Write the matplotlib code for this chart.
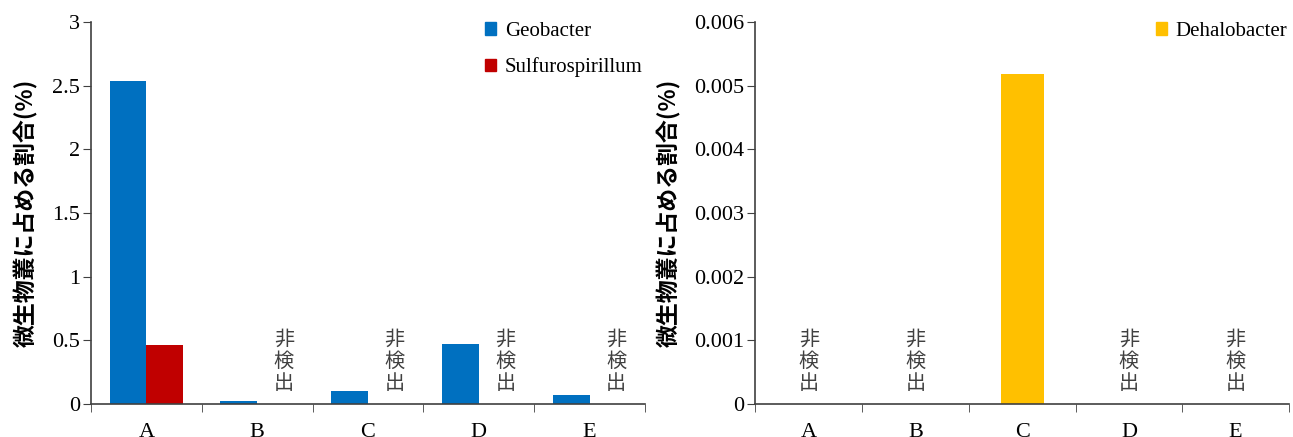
import numpy as np
import matplotlib
matplotlib.use('Agg')
import matplotlib.pyplot as plt
from matplotlib.patches import Patch

plt.rcParams['font.family'] = ['Liberation Serif', 'Noto Sans CJK JP']

# data
samples = ['A', 'B', 'C', 'D', 'E']
geobacter = [2.54, 0.025, 0.105, 0.47, 0.068]
sulfuro = [0.46, 0, 0, 0, 0]
sulfuro_nd = [False, True, True, True, True]
dehalo = [0, 0, 0.00518, 0, 0]
dehalo_nd = [True, True, False, True, True]

ylabel = '微生物叢に占める割合(%)'
nd_text = '非\n検\n出'

fig = plt.figure(figsize=(12.93, 4.37), dpi=100)
ax1 = fig.add_axes([0.0704, 0.0755, 0.4284, 0.8741])
ax2 = fig.add_axes([0.5843, 0.0755, 0.4126, 0.8741])

x = np.arange(len(samples))
w = 0.333
ax1.bar(x - w/2, geobacter, w, color='#0070C0', label='Geobacter')
ax1.bar(x + w/2, sulfuro, w, color='#C00000', label='Sulfurospirillum')
for i, nd in enumerate(sulfuro_nd):
    if nd:
        ax1.text(i + 0.24, 0.08, nd_text, ha='center', va='bottom', fontsize=14.5,
                 color='#404040', family='Noto Sans CJK JP', linespacing=1.07)
ax1.set_ylim(0, 3)
ax1.set_yticks([0, 0.5, 1, 1.5, 2, 2.5, 3])
ax1.set_yticklabels(['0', '0.5', '1', '1.5', '2', '2.5', '3'])

ax2.bar(x, dehalo, 0.4, color='#FFC000', label='Dehalobacter')
for i, nd in enumerate(dehalo_nd):
    if nd:
        ax2.text(i, 0.00016, nd_text, ha='center', va='bottom', fontsize=14.5,
                 color='#404040', family='Noto Sans CJK JP', linespacing=1.07)
ax2.set_ylim(0, 0.006)
ax2.set_yticks([0, 0.001, 0.002, 0.003, 0.004, 0.005, 0.006])
ax2.set_yticklabels(['0', '0.001', '0.002', '0.003', '0.004', '0.005', '0.006'])

for ax in (ax1, ax2):
    ax.set_xlim(-0.5, 4.5)
    ax.set_xticks(x)
    ax.set_xticklabels(samples)
    ax.set_xticks(np.arange(-0.5, 5.0, 1.0), minor=True)
    ax.tick_params(axis='x', which='major', length=0, pad=14, labelsize=16)
    ax.tick_params(axis='x', which='minor', length=6, direction='out', color='#404040')
    ax.tick_params(axis='y', length=6, direction='out', labelsize=16, pad=2, color='#404040')
    for s in ('top', 'right'):
        ax.spines[s].set_visible(False)
    for s in ('left', 'bottom'):
        ax.spines[s].set_color('#404040')
        ax.spines[s].set_linewidth(1.2)
    ax.set_ylabel(ylabel, family='Noto Sans CJK JP', fontweight='bold', fontsize=16.5)

ax1.yaxis.set_label_coords(-0.095, 0.5)
ax2.yaxis.set_label_coords(-0.14, 0.5)

h1 = [Patch(color='#0070C0'), Patch(color='#C00000')]
ax1.legend(h1, ['Geobacter', 'Sulfurospirillum'], loc='upper left',
           bbox_to_anchor=(0.375, 0.95), bbox_transform=fig.transFigure,
           frameon=False, fontsize=15, handlelength=0.55, handleheight=0.55,
           handletextpad=0.4, labelspacing=0.8, borderaxespad=0, borderpad=0)
ax2.legend([Patch(color='#FFC000')], ['Dehalobacter'], loc='upper left',
           bbox_to_anchor=(0.894, 0.95), bbox_transform=fig.transFigure,
           frameon=False, fontsize=15, handlelength=0.55, handleheight=0.55,
           handletextpad=0.4, borderaxespad=0, borderpad=0)

plt.savefig('out.png', dpi=100)
